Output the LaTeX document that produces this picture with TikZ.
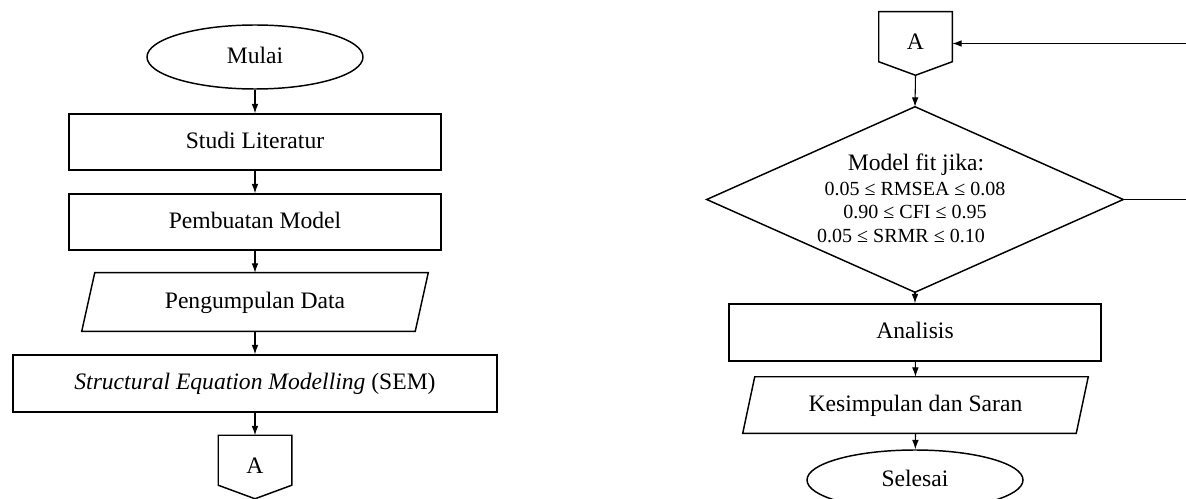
\documentclass[tikz,border=0pt]{standalone}
\usepackage{fontspec}
\setmainfont{Liberation Serif}
\usetikzlibrary{arrows.meta,shapes.geometric,calc}
\newcommand\mainfs{\fontsize{17.7pt}{21pt}\selectfont}
\newcommand\smallfs{\fontsize{15pt}{18pt}\selectfont}
\begin{document}
\begin{tikzpicture}[x=0.75pt,y=-0.75pt,
  shp/.style={line width=1.1pt},
  txt/.style={font=\mainfs,text height=0.95em,text depth=0pt},
  box/.style={shp,txt,draw,rectangle,inner sep=0pt,minimum height=42.75pt},
  term/.style={shp,txt,draw,ellipse,inner sep=0pt,minimum width=162pt},
  ghost/.style={txt,rectangle,inner sep=0pt},
  conn/.style={line width=0.8pt,-{Latex[length=7pt,width=5pt]}},
  line/.style={line width=0.8pt},
  small/.style={font=\smallfs,inner sep=0pt,anchor=base}
]
\useasboundingbox (0,0) rectangle (1186,499);

% ---------------- left column ----------------
\node[term,minimum height=48pt] (mulai) at (255,57) {Mulai};
\node[box,minimum width=279pt,minimum height=42pt] (studi) at (255,142) {Studi Literatur};
\node[box,minimum width=279pt,minimum height=42pt] (model) at (255,222) {Pembuatan Model};
\node[ghost,minimum width=259.5pt,minimum height=43.5pt] (data) at (255,302) {Pengumpulan Data};
\draw[shp] ($(data.north west)+(13,0)$) -- (data.north east) -- ($(data.south east)+(-13,0)$) -- (data.south west) -- cycle;
\node[box,minimum width=363pt] (sem) at (255,383.5) {\textit{Structural Equation Modelling} (SEM)};
\node[ghost,minimum width=54.75pt,minimum height=47.25pt] (a1) at (255,467) {A};
\draw[shp] (a1.north west) -- (a1.north east) -- ($(a1.north east)+(0,50)$) -- (a1.south) -- ($(a1.north west)+(0,50)$) -- cycle;

\draw[conn] (mulai) -- (studi);
\draw[conn] (studi) -- (model);
\draw[conn] (model) -- (data.north);
\draw[conn] (data.south) -- (sem);
\draw[conn] (sem) -- (a1.north);

% ---------------- right column ----------------
\node[ghost,minimum width=54.75pt,minimum height=47.25pt] (a2) at (915.5,43.5) {A};
\draw[shp] (a2.north west) -- (a2.north east) -- ($(a2.north east)+(0,50)$) -- (a2.south) -- ($(a2.north west)+(0,50)$) -- cycle;

\node[rectangle,inner sep=0pt,minimum width=312pt,minimum height=138.75pt] (dia) at (915,199.5) {};
\draw[shp] (dia.north) -- (dia.east) -- (dia.south) -- (dia.west) -- cycle;
\node[small,font=\mainfs] (d1) at (916,171) {Model fit jika:};
\node[small] (d2) at (915,196) {0.05 ≤ RMSEA ≤ 0.08};
\node[small] (d3) at (915,219) {0.90 ≤ CFI ≤ 0.95};
\node[small] (d4) at (901,243) {0.05 ≤ SRMR ≤ 0.10};

\node[box,minimum width=279pt] (anal) at (915,332.5) {Analisis};
\node[ghost,minimum width=258.75pt,minimum height=42pt] (kes) at (915.5,405) {Kesimpulan dan Saran};
\draw[shp] ($(kes.north west)+(12,0)$) -- (kes.north east) -- ($(kes.south east)+(-12,0)$) -- (kes.south west) -- cycle;
\node[term,minimum height=45pt] (selesai) at (915,480) {Selesai};

\coordinate (r1) at (1186,43.5);
\coordinate (r2) at (1186,199.5);

\draw[conn] (a2.south) -- (dia.north);
\draw[conn] (dia.south) -- (anal);
\draw[conn] (anal) -- (kes.north);
\draw[conn] (kes.south) -- (selesai);
\draw[line] (dia.east) -- (r2);
\draw[conn] (r1) -- (a2.east);
\end{tikzpicture}
\end{document}
